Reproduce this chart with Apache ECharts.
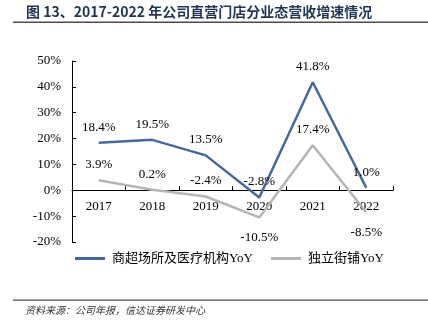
<!DOCTYPE html>
<html><head><meta charset="utf-8">
<script src="https://cdn.jsdelivr.net/npm/echarts@6/dist/echarts.min.js"></script>
<style>html,body{margin:0;padding:0;background:#fff}#c{width:428px;height:332px}</style>
</head><body><div id="c"></div>
<script>
const categories = ['2017','2018','2019','2020','2021','2022'];
const mallValues = [18.4, 19.5, 13.5, -2.8, 41.8, 1.0];
const streetValues = [3.9, 0.2, -2.4, -10.5, 17.4, -8.5];
const streetLabelBelow = [false, false, false, true, false, true];
const seriesNames = ['商超场所及医疗机构YoY', '独立街铺YoY'];
const titleText = '图 13、2017-2022 年公司直营门店分业态营收增速情况';
const sourceText = '资料来源：公司年报，信达证券研发中心';
const yMin = -20, yMax = 50, yStep = 10;

const serif = 'Liberation Serif, Times New Roman, Noto Sans CJK SC, serif';
const gridTop = 61, gridBottom = 90, chartH = 332;
const plotH = chartH - gridTop - gridBottom;
const zeroOffset = plotH * (0 - yMin) / (yMax - yMin);

const chart = echarts.init(document.getElementById('c'));
const lblFmt = p => p.value.toFixed(1) + '%';
chart.setOption({
  animation: false,
  textStyle: {fontFamily: serif},
  graphic: [
    {type: 'text', left: 26, top: 5, style: {text: titleText, font: 'bold 14px "Noto Sans CJK SC"', fill: '#1f3553'}},
    {type: 'rect', shape: {x: 13, y: 21.5, width: 415, height: 1.6}, style: {fill: '#4d4d4d'}},
    {type: 'rect', shape: {x: 13, y: 299.5, width: 415, height: 1.2}, style: {fill: '#4d4d4d'}},
    {type: 'text', left: 25, top: 305, style: {text: sourceText, font: 'italic 10px "Noto Sans CJK SC"', fill: '#333'}}
  ],
  grid: {left: 72, right: 35, top: gridTop, bottom: gridBottom, containLabel: false},
  legend: {
    bottom: 62, left: 70, itemGap: 18, itemWidth: 30, itemHeight: 3,
    icon: 'rect',
    textStyle: {fontFamily: serif, fontSize: 13, color: '#000', padding: [0, 0, 0, 2]},
    data: seriesNames
  },
  xAxis: {
    type: 'category', data: categories, boundaryGap: true,
    position: 'bottom', offset: -zeroOffset,
    axisLine: {onZero: false, lineStyle: {color: '#000', width: 1}},
    axisTick: {show: true, inside: true, length: 4, lineStyle: {color: '#000'}},
    axisLabel: {fontFamily: serif, fontSize: 13, color: '#000', margin: 10}
  },
  yAxis: {
    type: 'value', min: yMin, max: yMax, interval: yStep,
    axisLine: {show: true, lineStyle: {color: '#000', width: 1}},
    axisTick: {show: true, inside: true, length: 4, lineStyle: {color: '#000'}},
    splitLine: {show: false},
    axisLabel: {formatter: '{value}%', fontFamily: serif, fontSize: 13, color: '#000', margin: 11}
  },
  series: [
    {
      name: seriesNames[0], type: 'line', symbol: 'circle', symbolSize: 0, showSymbol: true,
      data: mallValues.map((v, i) => i === mallValues.length - 1 ? {value: v, label: {offset: [6, 0]}} : v),
      lineStyle: {color: '#46699b', width: 2.5}, itemStyle: {color: '#46699b'},
      label: {show: true, position: 'top', distance: 9, formatter: lblFmt, fontFamily: serif, fontSize: 13, color: '#000'},
      labelLayout: {hideOverlap: false},
      z: 3
    },
    {
      name: seriesNames[1], type: 'line', symbol: 'circle', symbolSize: 0, showSymbol: true,
      data: streetValues.map((v, i) => ({value: v, label: {position: streetLabelBelow[i] ? 'bottom' : 'top', distance: streetLabelBelow[i] ? 14 : 9}})),
      lineStyle: {color: '#b5b5b5', width: 2.5}, itemStyle: {color: '#b5b5b5'},
      label: {show: true, position: 'top', distance: 9, formatter: lblFmt, fontFamily: serif, fontSize: 13, color: '#000'},
      labelLayout: {hideOverlap: false},
      z: 2
    }
  ]
});
</script></body></html>
